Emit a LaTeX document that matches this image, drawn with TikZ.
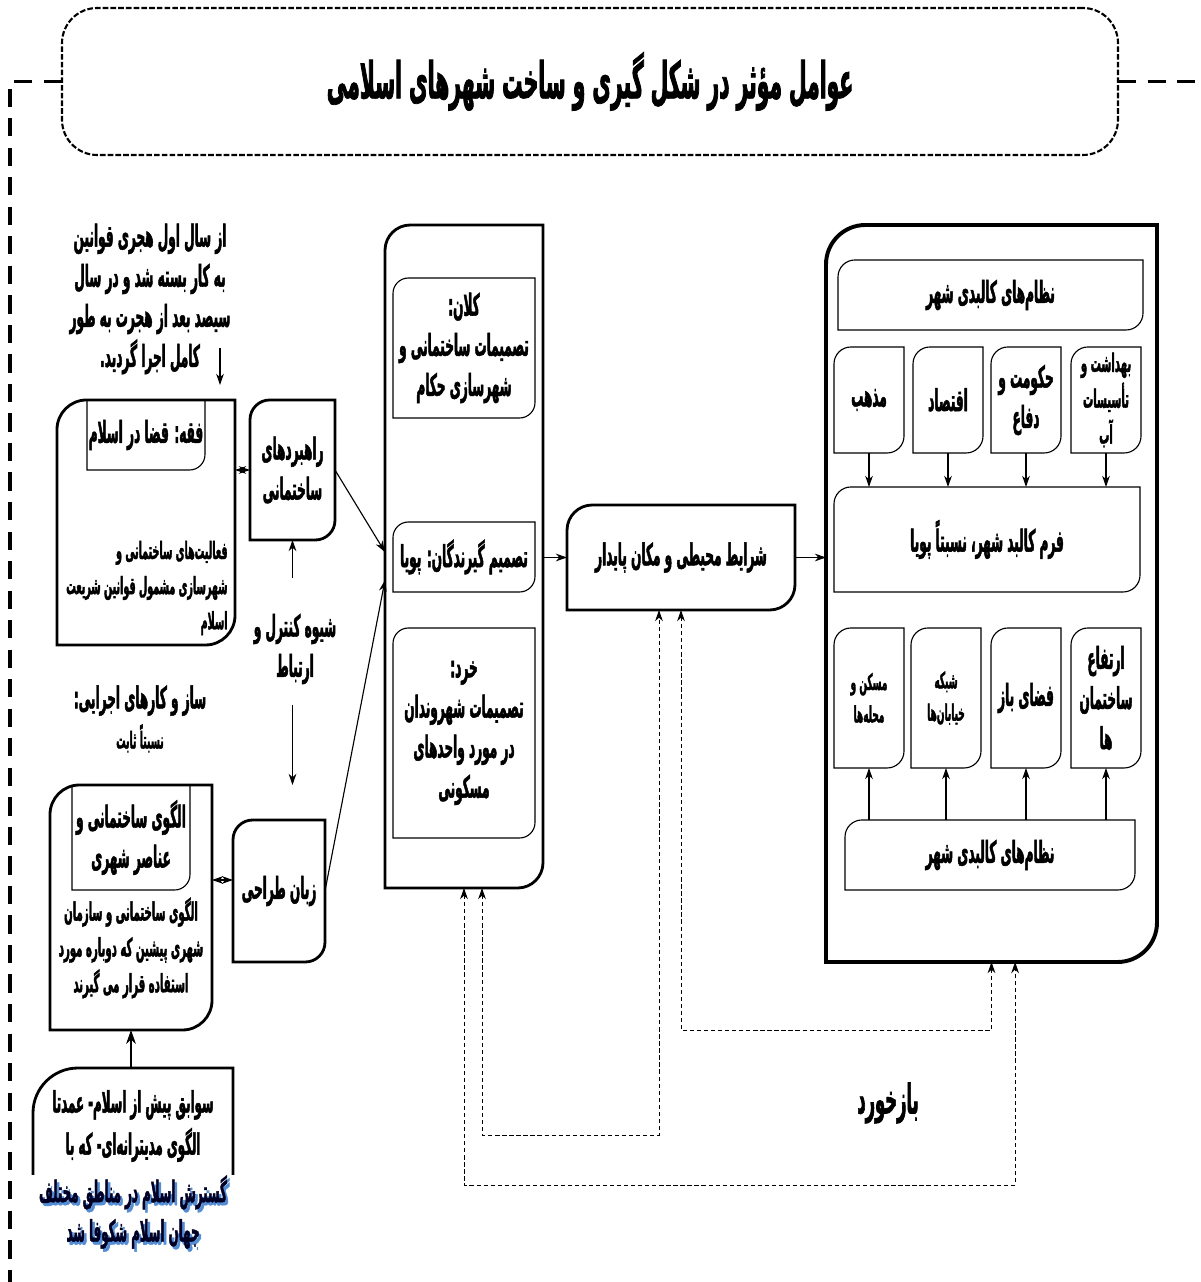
\documentclass[tikz,border=0pt]{standalone}
\usepackage{fontspec}
\usetikzlibrary{arrows.meta}
\newfontfamily\fa[Script=Arabic,FakeStretch=0.4,BoldFeatures={FakeBold=1.5}]{DejaVu Sans}
\TeXXeTstate=1
\definecolor{glowblue}{RGB}{84,141,212}
\newcommand\faline[1]{\beginR #1\endR}
% box with rounded top-left and bottom-right corners
\newcommand\tlbr[3][]{\draw[#1] (#2.south west) -- ([yshift=-#3]#2.north west)
  arc[start angle=180,end angle=90,radius=#3] -- (#2.north east)
  -- ([yshift=#3]#2.south east) arc[start angle=0,end angle=-90,radius=#3] -- cycle;}
% inner title box, open at top, rounded bottom-right
\newcommand\brcut[3][]{\draw[#1] (#2.north west) -- (#2.south west)
  -- ([xshift=-#3]#2.south east) arc[start angle=-90,end angle=0,radius=#3] -- (#2.north east);}
\begin{document}
\begin{tikzpicture}[x=0.025cm,y=0.025cm,>={Stealth[length=8pt,width=5.5pt]},
  sz/.style 2 args={minimum width=#1*0.025cm,minimum height=#2*0.025cm},
  lbl/.style={align=center,inner sep=1pt,outer sep=0pt,font=\fa\bfseries\fontsize{21.5}{28.5}\selectfont},
  small/.style={font=\fa\bfseries\fontsize{18}{25.5}\selectfont},
  tiny/.style={font=\fa\bfseries\fontsize{16}{23}\selectfont},
  thk/.style={line width=2pt},
  thn/.style={line width=0.8pt},
  bigdash/.style={line width=2.2pt,dash pattern=on 13pt off 8pt},
  fb/.style={densely dashed,line width=0.7pt,<->}]
\useasboundingbox (0,0) rectangle (1201,1282);

% title
\node[lbl,sz={1056}{147},draw,line width=1.5pt,dash pattern=on 4pt off 1.5pt,rounded corners=25pt,
  font=\fa\bfseries\fontsize{36}{40}\selectfont] (title) at (590,1200.5)
  {\faline{عوامل مؤثر در شکل گیری و ساخت شهرهای اسلامی}};
\draw[bigdash] (title.west) -- (10,1200.5) -- (10,0);
\draw[bigdash] (title.east) -- (1201,1200.5);

% left column
\node[lbl] (hijri) at (150,983) {\faline{از سال اول هجری قوانین}\\\faline{به کار بسته شد و در سال}\\
  \faline{سیصد بعد از هجرت به طور}\\\faline{کامل اجرا گردید.}};
\node[lbl,sz={178}{245}] (fiqh) at (146,759.5) {};
\node[lbl,sz={118}{70}] (fiqhtop) at (146,847) {\faline{فقه: قضا در اسلام}};
\node[lbl,align=right,anchor=east,font=\fa\bfseries\fontsize{17}{25}\selectfont] (fiqhbody) at (229,694)
  {\faline{فعالیت‌های  ساختمانی و}\\\faline{شهرسازی مشمول قوانین شریعت}\\\faline{اسلام}};
\tlbr[thk]{fiqh}{21pt}
\brcut[thn]{fiqhtop}{11pt}
\coordinate (hijriarr) at (220,934);
\coordinate (hijriend) at (220,897);
\draw[->,thn] (hijriarr) -- (hijriend);

\node[lbl,sz={85}{140}] (rahbord) at (292.5,812) {\faline{راهبردهای}\\\faline{ساختمانی}};
\tlbr[thk]{rahbord}{14pt}
\draw[<->,thn] (fiqh.east |- rahbord.west) -- (rahbord.west);

\node[lbl] (control) at (295,633) {\faline{شیوه کنترل و}\\\faline{ارتباط}};
\coordinate (ctlup) at (292.5,704);
\coordinate (ctldn) at (292.5,577);
\coordinate (ctlend) at (292.5,497);
\draw[->,thn] (ctlup) -- (rahbord.south);
\draw[->,thn] (ctldn) -- (ctlend);

\node[lbl,sz={92}{142}] (zaban) at (279,391) {\faline{زبان طراحی}};
\tlbr[thk]{zaban}{14pt}

\node[lbl] (ejraie) at (140,563) {\faline{ساز و کارهای اجرایی:}\\{\fa\bfseries\fontsize{16.5}{20}\selectfont\faline{نسبتاً ثابت}}};

\node[lbl,sz={162}{245}] (alagoo) at (131,374.5) {};
\node[lbl,sz={118}{105}] (alagootop) at (131,444.5) {\faline{الگوی ساختمانی و}\\\faline{عناصر شهری}};
\node[lbl,small] (alagoobody) at (131,334) {\faline{الگوی ساختمانی و سازمان}\\
  \faline{شهری پیشین که دوباره مورد}\\\faline{استفاده قرار می گیرند}};
\tlbr[thk]{alagoo}{21pt}
\brcut[thn]{alagootop}{11pt}
\draw[<->,thn] (alagoo.east |- 0,402) -- (zaban.west |- 0,402);

\node[lbl,sz={200}{107}] (sawabiq) at (133,160.5) {};
\draw[thk] (sawabiq.south west) -- ([yshift=-32pt]sawabiq.north west)
  arc[start angle=180,end angle=90,radius=32pt] -- (sawabiq.north east) -- (sawabiq.south east);
\node[lbl,font=\fa\bfseries\fontsize{21}{30}\selectfont] (sawtext) at (133,156) {\faline{سوابق پیش از اسلام- عمدتا}\\\faline{الگوی مدیترانه‌ای- که با}};
\node[lbl,text=glowblue,font=\fa\bfseries\fontsize{21}{28}\selectfont] at (135.5,67)
  {\faline{گسترش اسلام در مناطق مختلف}\\\faline{جهان اسلام شکوفا شد}};
\node[lbl,text=black!85!blue,font=\fa\bfseries\fontsize{21}{28}\selectfont] (glow) at (133,70)
  {\faline{گسترش اسلام در مناطق مختلف}\\\faline{جهان اسلام شکوفا شد}};
\draw[-{Stealth[length=10pt,width=7pt]},thn] (sawabiq.north -| alagoo.south) -- (alagoo.south);

% decision makers
\node[lbl,sz={158}{663}] (tasmim) at (464,725.5) {};
\tlbr[thk]{tasmim}{18pt}
\node[lbl,sz={142}{140}] (kalan) at (464,934) {\faline{کلان:}\\\faline{تصمیمات ساختمانی و}\\\faline{شهرسازی حکام}};
\node[lbl,sz={142}{70}] (pouya) at (464,725) {\faline{تصمیم گیرندگان: پویا}};
\node[lbl,sz={142}{210}] (khord) at (464,549) {\faline{خرد:}\\\faline{تصمیمات شهروندان}\\
  \faline{در مورد واحدهای}\\\faline{مسکونی}};
\foreach \n in {kalan,pouya,khord} {\tlbr[thn]{\n}{11pt}}
\draw[->,thn] (rahbord.east) -- ([yshift=0.11cm]tasmim.west);
\draw[->,thn] (zaban.east) -- ([yshift=-0.59cm]tasmim.west);

\node[lbl,sz={228}{105}] (sharayet) at (681,724.5) {\faline{شرایط محیطی و مکان پایدار}};
\tlbr[thk]{sharayet}{18pt}
\draw[->,thn] (tasmim.east |- sharayet.west) -- (sharayet.west);

% physical systems
\node[lbl,sz={331}{737}] (kalbad) at (991.5,688.5) {};
\tlbr[line width=2.8pt]{kalbad}{28pt}
\draw[->,thn] (sharayet.east) -- (kalbad.west |- sharayet.east);
\node[lbl,sz={305}{70}] (nezam1) at (990.5,987) {\faline{نظام‌های کالبدی شهر}};
\node[lbl,sz={70}{106}] (mazhab) at (869,882) {\faline{مذهب}};
\node[lbl,sz={70}{106}] (eqtesad) at (948,882) {\faline{اقتصاد}};
\node[lbl,sz={70}{106}] (hokumat) at (1026,882) {\faline{حکومت و}\\\faline{دفاع}};
\node[lbl,sz={70}{106},small] (behdasht) at (1106,882) {\faline{بهداشت و}\\\faline{تأسیسات}\\\faline{آب}};
\node[lbl,sz={306}{105}] (form) at (987,742.5) {\faline{فرم کالبد شهر، نسبتاً پویا}};
\node[lbl,sz={70}{140},tiny] (maskan) at (869,584) {\faline{مسکن و}\\\faline{محله‌ها}};
\node[lbl,sz={70}{140},tiny] (shabake) at (946,584) {\faline{شبکه}\\\faline{خیابان‌ها}};
\node[lbl,sz={70}{140}] (faza) at (1026,584) {\faline{فضای باز}};
\node[lbl,sz={70}{140}] (ertefa) at (1106,584) {\faline{ارتفاع}\\\faline{ساختمان}\\\faline{ها}};
\node[lbl,sz={290}{70}] (nezam2) at (990,427) {\faline{نظام‌های کالبدی شهر}};
\foreach \n in {nezam1,mazhab,eqtesad,hokumat,behdasht,form,maskan,shabake,faza,ertefa,nezam2}
  {\tlbr[thn]{\n}{12pt}}
\foreach \n in {mazhab,eqtesad,hokumat,behdasht}
  {\draw[->,thn] (\n.south) -- (\n.south |- form.north);}
\foreach \n in {maskan,shabake,faza,ertefa}
  {\draw[->,thn] (nezam2.north -| \n.south) -- (\n.south);}

% feedback
\coordinate (fbin) at (0,252);
\coordinate (fbmid) at (0,147);
\coordinate (fbout) at (0,97);
\draw[fb] (sharayet.south) -- (sharayet.south |- fbin) -| (kalbad.south);
\draw[fb] ([xshift=0.45cm]tasmim.south) -- ([xshift=0.45cm]tasmim.south |- fbmid) -| ([xshift=-0.55cm]sharayet.south);
\draw[fb] (tasmim.south) -- (tasmim.south |- fbout) -| ([xshift=0.59cm]kalbad.south);
\node[lbl,font=\fa\bfseries\fontsize{29}{32}\selectfont] (bazkhord) at (888,179) {\faline{بازخورد}};
\end{tikzpicture}
\end{document}
